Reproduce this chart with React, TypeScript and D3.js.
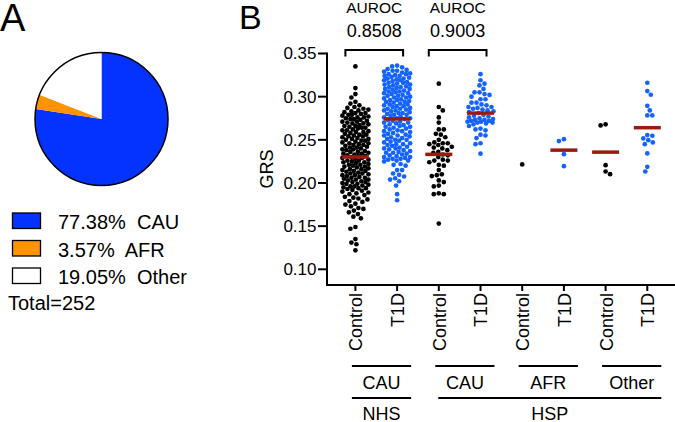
import React from 'react';
import * as d3 from 'd3';

// ---------- Panel A data ----------
const PIE_LABELS = ['CAU', 'AFR', 'Other'];
const PIE_PERCENTS = [77.38, 3.57, 19.05];
const PIE_COLORS = ['#0433FF', '#FF9300', '#FFFFFF'];
const PIE_TOTAL = 252;

// ---------- Panel B data ----------
const TICK_LABELS = ['Control', 'T1D', 'Control', 'T1D', 'Control', 'T1D', 'Control', 'T1D'];
const GROUP_IS_T1D = [false, true, false, true, false, true, false, true];
const ETHNIC_LABELS = ['CAU', 'CAU', 'AFR', 'Other'];
const COHORT_LABELS = ['NHS', 'HSP'];
const COHORT_SPANS = [[0, 1], [2, 7]];
const AUROC_VALUES = ['0.8508', '0.9003'];
const AUROC_PAIRS = [[0, 1], [2, 3]];
const Y_TICKS = [0.10, 0.15, 0.20, 0.25, 0.30, 0.35];

const NHS_CAU_CONTROL = [
  0.335, 0.310, 0.303, 0.299, 0.294, 0.292, 0.290, 0.288,
  0.287, 0.286, 0.285, 0.284, 0.283,
  0.282, 0.281, 0.281, 0.280, 0.279, 0.279, 0.278,
  0.277, 0.276, 0.276, 0.275, 0.274, 0.274, 0.273,
  0.272, 0.271, 0.271, 0.270, 0.269, 0.269, 0.268,
  0.267, 0.266, 0.266, 0.265, 0.264, 0.264, 0.263,
  0.262, 0.261, 0.261, 0.260, 0.259, 0.259, 0.258,
  0.257, 0.256, 0.256, 0.255, 0.254, 0.254, 0.253,
  0.252, 0.251, 0.251, 0.250, 0.249, 0.249, 0.248,
  0.247, 0.246, 0.246, 0.245, 0.244, 0.244, 0.243,
  0.242, 0.241, 0.241, 0.240, 0.239, 0.239, 0.238,
  0.237, 0.236, 0.236, 0.235, 0.234, 0.234, 0.233,
  0.232, 0.231, 0.231, 0.230, 0.229, 0.229, 0.228,
  0.227, 0.226, 0.226, 0.225, 0.224, 0.224, 0.223,
  0.222, 0.221, 0.221, 0.220, 0.219, 0.219, 0.218,
  0.217, 0.216, 0.216, 0.215, 0.214, 0.214, 0.213,
  0.212, 0.211, 0.211, 0.210, 0.209, 0.209, 0.208,
  0.207, 0.206, 0.206, 0.205, 0.204, 0.204, 0.203,
  0.202, 0.201, 0.201, 0.200, 0.199, 0.199, 0.198,
  0.197, 0.196, 0.196, 0.195, 0.194, 0.194, 0.193,
  0.192, 0.191, 0.190, 0.189, 0.188,
  0.187, 0.186, 0.184, 0.183,
  0.182, 0.181, 0.179, 0.178,
  0.176, 0.175, 0.173,
  0.171, 0.170, 0.168,
  0.166, 0.164,
  0.161, 0.159,
  0.149, 0.147, 0.135, 0.131, 0.129, 0.122,
];

const NHS_CAU_T1D = [
  0.336, 0.335, 0.334,
  0.332, 0.331, 0.330, 0.330, 0.329, 0.328,
  0.327, 0.326, 0.326, 0.325, 0.324, 0.324, 0.323,
  0.322, 0.321, 0.321, 0.320, 0.319, 0.319, 0.318,
  0.317, 0.316, 0.316, 0.315, 0.314, 0.314, 0.313,
  0.312, 0.311, 0.311, 0.310, 0.309, 0.309, 0.308,
  0.307, 0.306, 0.306, 0.305, 0.304, 0.304, 0.303,
  0.302, 0.301, 0.301, 0.300, 0.299, 0.299, 0.298,
  0.297, 0.296, 0.296, 0.295, 0.294, 0.294, 0.293,
  0.292, 0.291, 0.291, 0.290, 0.289, 0.289, 0.288,
  0.287, 0.286, 0.286, 0.285, 0.284, 0.284, 0.283,
  0.282, 0.281, 0.281, 0.280, 0.279, 0.279, 0.278,
  0.277, 0.276, 0.275, 0.275, 0.274, 0.273,
  0.272, 0.271, 0.270, 0.270, 0.269, 0.268,
  0.267, 0.266, 0.265, 0.265, 0.264, 0.263,
  0.262, 0.261, 0.260, 0.260, 0.259, 0.258,
  0.257, 0.256, 0.255, 0.255, 0.254, 0.253,
  0.252, 0.251, 0.250, 0.250, 0.249, 0.248,
  0.247, 0.246, 0.245, 0.245, 0.244, 0.243,
  0.242, 0.241, 0.240, 0.240, 0.239, 0.238,
  0.237, 0.236, 0.235, 0.235, 0.234, 0.233,
  0.232, 0.231, 0.230, 0.230, 0.229, 0.228,
  0.228, 0.227, 0.226, 0.226, 0.225,
  0.222, 0.221, 0.220, 0.215, 0.215, 0.211, 0.2095, 0.2075, 0.2055, 0.204, 0.202, 0.197, 0.187, 0.180,
];

const HSP_CAU_CONTROL = [
  0.315, 0.288, 0.284, 0.276, 0.270, 0.262, 0.262, 0.257, 0.256, 0.253,
  0.250, 0.247, 0.246, 0.246, 0.245, 0.244, 0.242, 0.241, 0.240, 0.238,
  0.236, 0.235, 0.233, 0.232, 0.230, 0.227, 0.226, 0.226, 0.224, 0.221,
  0.220, 0.215, 0.210, 0.209, 0.208, 0.203, 0.201, 0.197, 0.196, 0.188,
  0.187, 0.187, 0.153,
];

const HSP_CAU_T1D = [
  0.326, 0.319, 0.315, 0.313, 0.309, 0.305, 0.305, 0.303, 0.302, 0.300,
  0.297, 0.297, 0.293, 0.293, 0.291, 0.290, 0.288, 0.288, 0.287, 0.286,
  0.285, 0.284, 0.283, 0.282, 0.281, 0.279, 0.278, 0.277, 0.276, 0.275,
  0.274, 0.273, 0.273, 0.272, 0.272, 0.271, 0.271, 0.270, 0.270, 0.269,
  0.268, 0.266, 0.263, 0.262, 0.261, 0.256, 0.255, 0.252, 0.246, 0.245,
  0.234,
];

const HSP_AFR_CONTROL = [0.2215];
const HSP_AFR_T1D = [0.2508, 0.2485, 0.2334, 0.2195];
const HSP_OTHER_CONTROL = [0.2679, 0.2667, 0.2206, 0.2133, 0.2102];
const HSP_OTHER_T1D = [
  0.3161, 0.3065, 0.3022, 0.2894, 0.2841, 0.2783, 0.2783, 0.2555,
  0.2547, 0.2516, 0.2496, 0.2470, 0.2450, 0.2342, 0.2187, 0.2133,
];

const GROUP_VALUES = [
  NHS_CAU_CONTROL, NHS_CAU_T1D, HSP_CAU_CONTROL, HSP_CAU_T1D,
  HSP_AFR_CONTROL, HSP_AFR_T1D, HSP_OTHER_CONTROL, HSP_OTHER_T1D,
];

// ---------- styling ----------
const FONT = 'Liberation Sans, Arial, Helvetica, sans-serif';
const DOT_BLACK = '#000000';
const DOT_BLUE = '#1463FF';
const MEAN_RED = '#9A1B0E';
const DOT_R = 2.35;

type Placed = { v: number; y: number; dx: number };

function beeswarm(values: number[], y: (v: number) => number, r: number, maxHalf: number): Placed[] {
  const pts = values.map((v) => ({ v, y: y(v) })).sort((a, b) => a.y - b.y);
  const placed: Placed[] = [];
  const minD = 2 * r + 0.3;
  const cands: number[] = [0];
  for (let k = 0.5; k <= maxHalf + 1e-9; k += 0.5) cands.push(k, -k);
  pts.forEach((p, i) => {
    const near = placed.filter((q) => Math.abs(q.y - p.y) < minD);
    let found: number | null = null;
    let fallback = 0;
    let fbScore = -Infinity;
    const order = i % 2 === 0 ? cands : cands.map((c) => -c);
    for (const dx of order) {
      let md = Infinity;
      for (const q of near) {
        const d = Math.hypot(q.dx - dx, q.y - p.y);
        if (d < md) md = d;
      }
      if (md >= minD) {
        found = dx;
        break;
      }
      if (md > fbScore) {
        fbScore = md;
        fallback = dx;
      }
    }
    placed.push({ ...p, dx: found !== null ? found : fallback });
  });
  return placed;
}

export default function App() {
  // ----- Panel A -----
  const pieCx = 101.5;
  const pieCy = 119;
  const pieR = 66.5;
  const pie = d3.pie<number>().sort(null).value((d) => d)(PIE_PERCENTS);
  const arc = d3.arc<d3.PieArcDatum<number>>().innerRadius(0).outerRadius(pieR);

  // ----- Panel B scales -----
  const x = d3.scalePoint<number>().domain(d3.range(TICK_LABELS.length)).range([355.4, 647.3]);
  const y = d3.scaleLinear().domain([0.10, 0.35]).range([269.3, 53.5]);
  const axisX = 327;
  const axisY = 285;

  return (
    <svg
      width={675}
      height={422}
      viewBox="0 0 675 422"
      style={{ position: 'absolute', left: 0, top: 0, background: '#fff' }}
      fontFamily={FONT}
    >
      <rect x={0} y={0} width={675} height={422} fill="#fff" />
      {/* Panel labels */}
      <text x={0} y={31} fontSize={38}>A</text>
      <text x={239} y={28.5} fontSize={34}>B</text>

      {/* Pie */}
      <g transform={`translate(${pieCx},${pieCy})`}>
        {pie.map((d, i) => (
          <path key={i} d={arc(d) || ''} fill={PIE_COLORS[i]} />
        ))}
        <circle r={pieR} fill="none" stroke="#000" strokeWidth={1.5} />
      </g>

      {/* Legend */}
      {PIE_LABELS.map((lab, i) => (
        <g key={lab} transform={`translate(0,${213 + i * 27.5})`}>
          <rect x={12.5} y={0} width={28} height={15.5} fill={PIE_COLORS[i]} stroke="#000" strokeWidth={1.3} />
          <text x={58} y={16} fontSize={20} style={{ whiteSpace: 'pre' }}>
            {`${PIE_PERCENTS[i].toFixed(2)}%  ${lab}`}
          </text>
        </g>
      ))}
      <text x={8} y={309.5} fontSize={20}>{`Total=${PIE_TOTAL}`}</text>

      {/* Y axis */}
      <line x1={axisX} x2={axisX} y1={y(0.35) - 1} y2={axisY + 1} stroke="#000" strokeWidth={2} />
      {Y_TICKS.map((t) => (
        <g key={t}>
          <line x1={axisX - 9} x2={axisX} y1={y(t)} y2={y(t)} stroke="#000" strokeWidth={2} />
          <text x={axisX - 10.5} y={y(t)} dy="0.35em" textAnchor="end" fontSize={17}>
            {t.toFixed(2)}
          </text>
        </g>
      ))}
      <text
        transform={`translate(272.5,169) rotate(-90)`}
        textAnchor="middle"
        fontSize={18}
      >
        GRS
      </text>

      {/* X axis */}
      <line x1={axisX - 1} x2={675} y1={axisY} y2={axisY} stroke="#000" strokeWidth={2} />
      {TICK_LABELS.map((lab, i) => (
        <g key={i}>
          <line x1={x(i)!} x2={x(i)!} y1={axisY} y2={axisY + 6} stroke="#000" strokeWidth={2} />
          <text
            transform={`translate(${x(i)! + 0.5},${axisY + 8}) rotate(-90)`}
            textAnchor="end"
            dy="0.36em"
            fontSize={18}
          >
            {lab}
          </text>
        </g>
      ))}

      {/* Ethnic group lines + labels */}
      {ETHNIC_LABELS.map((lab, gi) => {
        const x0 = x(gi * 2)! - 3.5;
        const x1 = x(gi * 2 + 1)! + 14;
        return (
          <g key={gi}>
            <line x1={x0} x2={x1} y1={366} y2={366} stroke="#000" strokeWidth={2} />
            <text x={(x0 + x1) / 2} y={388.5} textAnchor="middle" fontSize={18}>{lab}</text>
          </g>
        );
      })}
      {COHORT_LABELS.map((lab, ci) => {
        const [a, b] = COHORT_SPANS[ci];
        const x0 = x(a)! - (ci === 0 ? 3.5 : 0.5);
        const x1 = x(b)! + 14;
        return (
          <g key={lab}>
            <line x1={x0} x2={x1} y1={398} y2={398} stroke="#000" strokeWidth={2} />
            <text x={(x0 + x1) / 2} y={420} textAnchor="middle" fontSize={18}>{lab}</text>
          </g>
        );
      })}

      {/* AUROC brackets */}
      {AUROC_VALUES.map((val, i) => {
        const [a, b] = AUROC_PAIRS[i];
        const x0 = x(a)! - 10;
        const x1 = x(b)! + 6;
        const cx = (x0 + x1) / 2;
        return (
          <g key={i}>
            <text x={cx} y={13} textAnchor="middle" fontSize={15.5}>AUROC</text>
            <text x={cx} y={37.3} textAnchor="middle" fontSize={18}>{val}</text>
            <path d={`M${x0},56.5V50H${x1}V56.5`} fill="none" stroke="#000" strokeWidth={2} />
          </g>
        );
      })}

      {/* Dots */}
      {GROUP_VALUES.map((vals, gi) => {
        const cx = x(gi)!;
        const pts = beeswarm(vals, y, DOT_R, 13);
        const color = GROUP_IS_T1D[gi] ? DOT_BLUE : DOT_BLACK;
        return (
          <g key={gi}>
            {pts.map((p, k) => (
              <circle key={k} cx={cx + p.dx} cy={p.y} r={DOT_R} fill={color} />
            ))}
          </g>
        );
      })}

      {/* Mean lines */}
      {GROUP_VALUES.map((vals, gi) => {
        if (vals.length < 2) return null;
        const m = d3.mean(vals)!;
        const cx = x(gi)!;
        return (
          <line key={gi} x1={cx - 13.5} x2={cx + 13.5} y1={y(m)} y2={y(m)} stroke={MEAN_RED} strokeWidth={3.5} />
        );
      })}
    </svg>
  );
}
